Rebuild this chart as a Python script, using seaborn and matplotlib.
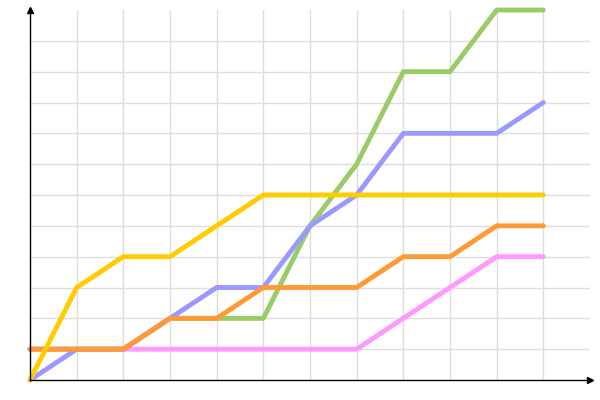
import pandas as pd
import matplotlib
matplotlib.use("Agg")
import matplotlib.pyplot as plt
import seaborn as sns

# --- Dados --- #
x = list(range(12))
verde = [1, 1, 1, 2, 2, 2, 5, 7, 10, 10, 12, 12]
rosa = [1, 1, 1, 1, 1, 1, 1, 1, 2, 3, 4, 4]
roxo = [0, 1, 1, 2, 3, 3, 5, 6, 8, 8, 8, 9]
laranja = [1, 1, 1, 2, 2, 3, 3, 3, 4, 4, 5, 5]
amarelo = [0, 3, 4, 4, 5, 6, 6, 6, 6, 6, 6, 6]

series = {"verde": verde, "rosa": rosa, "roxo": roxo, "laranja": laranja, "amarelo": amarelo}
cores = {"verde": "#99CC66", "rosa": "#FF99FF", "roxo": "#9999FF",
         "laranja": "#FF9933", "amarelo": "#FFCC00"}

df = pd.DataFrame([{"x": xi, "y": yi, "serie": nome}
                   for nome, vals in series.items() for xi, yi in zip(x, vals)])

sns.set_style("white")
fig = plt.figure(figsize=(6, 4), dpi=100)
ax = fig.add_axes([30 / 600, 20 / 400, 560 / 600, 370 / 400])

ax = sns.lineplot(data=df, x="x", y="y", hue="serie", palette=cores,
                  linewidth=3.5, legend=False, ax=ax, clip_on=False)

ax.set_xlim(0, 12)
ax.set_ylim(0, 12)
ax.set_xticks(range(1, 12))
ax.set_yticks(range(1, 12))
ax.grid(True, color="#DDDDDD", linewidth=1)
ax.set_axisbelow(True)
ax.tick_params(length=0, labelbottom=False, labelleft=False)
ax.set_xlabel("")
ax.set_ylabel("")

for lado in ["top", "right"]:
    ax.spines[lado].set_visible(False)
for lado in ["left", "bottom"]:
    ax.spines[lado].set_color("black")
    ax.spines[lado].set_linewidth(1)

# setas nos eixos
ax.plot(1, 0, ">k", markersize=4, transform=ax.transAxes, clip_on=False)
ax.plot(0, 1, "^k", markersize=4, transform=ax.transAxes, clip_on=False)

fig.savefig("out.png", dpi=100)
plt.close(fig)
